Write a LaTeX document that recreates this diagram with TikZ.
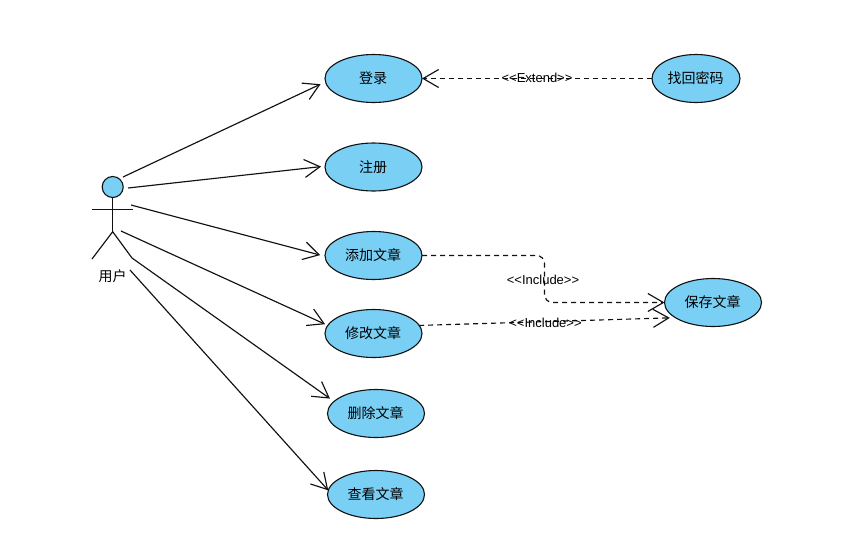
\documentclass[tikz,border=0pt]{standalone}
\usepackage{fontspec}
\setmainfont{Liberation Sans}
\newfontfamily\cjk{Noto Sans CJK SC}
\usetikzlibrary{shapes.geometric,arrows.meta}
\definecolor{ucfill}{HTML}{7ACFF5}
\definecolor{ucline}{HTML}{111111}
\tikzset{
  usecase/.style={ellipse,draw=ucline,fill=ucfill,line width=1.1pt,inner sep=0pt,outer sep=0pt,
    minimum width=97pt,minimum height=48pt,font=\cjk\fontsize{14}{14}\selectfont},
  conn/.style={draw=ucline,line width=1.15pt,-{Straight Barb[length=15.5pt,width=18pt,line width=1.15pt]}},
  depend/.style={conn,dash pattern=on 5pt off 4pt},
  stereo/.style={inner sep=0pt,font=\fontsize{13}{13}\selectfont},
  limb/.style={draw=ucline,line width=1.15pt},
}
\begin{document}
\begin{tikzpicture}[x=1pt,y=-1pt]
\useasboundingbox (0,0) rectangle (853,557);
% use cases
\node[usecase] (login) at (373.5,78.5) {\kern-1pt 登录};
\node[usecase,minimum width=88pt] (recover) at (696,78.5) {\kern-1pt 找回密码};
\node[usecase] (register) at (373.5,167) {\kern-1pt 注册};
\node[usecase] (add) at (373.5,255.5) {\kern-1pt 添加文章};
\node[usecase] (edit) at (373.5,333.5) {\kern-1pt 修改文章};
\node[usecase] (del) at (376,413.5) {\kern-1pt 删除文章};
\node[usecase] (view) at (376,494.5) {\kern-1pt 查看文章};
\node[usecase] (save) at (713,302.5) {\kern-1pt 保存文章};
% actor
\node[circle,draw=ucline,fill=ucfill,line width=1.1pt,minimum size=21pt,inner sep=0pt,outer sep=0pt] (head) at (112.7,187) {};
\coordinate (hip) at (112.7,231.7);
\coordinate (armL) at (92,209.7);
\coordinate (armR) at (133,209.7);
\coordinate (legL) at (92,259);
\coordinate (legR) at (132,258);
\draw[limb] (head.south) -- (hip);
\draw[limb] (armL) -- (armR);
\draw[limb] (legL) -- (hip) -- (legR);
\node[inner sep=0pt,font=\cjk\fontsize{14}{14}\selectfont] (actor) at (112.5,276) {用户};
% actor links
\coordinate (s1) at (123,177);
\coordinate (s2) at (128,188);
\coordinate (s3) at (131,205);
\coordinate (s4) at (121,231);
\coordinate (s5) at (132,258);
\coordinate (s6) at (130,270);
\draw[conn,shorten >=5.5pt] (s1) -- (login.184);
\draw[conn,shorten >=4pt] (s2) -- (register.179);
\draw[conn,shorten >=5pt] (s3) -- (add.181);
\draw[conn,shorten >=3pt] (s4) -- (edit.170.6);
\draw[conn,shorten >=5pt] (s5) -- (del.164.5);
\draw[conn] (s6) -- (view.175);
% dependencies
\draw[depend] (recover.west) -- (login.east);
\draw[depend,rounded corners=8pt] (add.east) -- (544.5,255.5) -- (544.5,302.5) -- (save.west);
\draw[depend,shorten >=5.6pt] (edit.10) -- (save.202.2);
\node[stereo] (lext) at (537,78) {<{}<Extend>{}>};
\node[stereo] (linc1) at (543,280) {<{}<Include>{}>};
\node[stereo] (linc2) at (545.5,322.5) {<{}<Include>{}>};
\end{tikzpicture}
\end{document}
